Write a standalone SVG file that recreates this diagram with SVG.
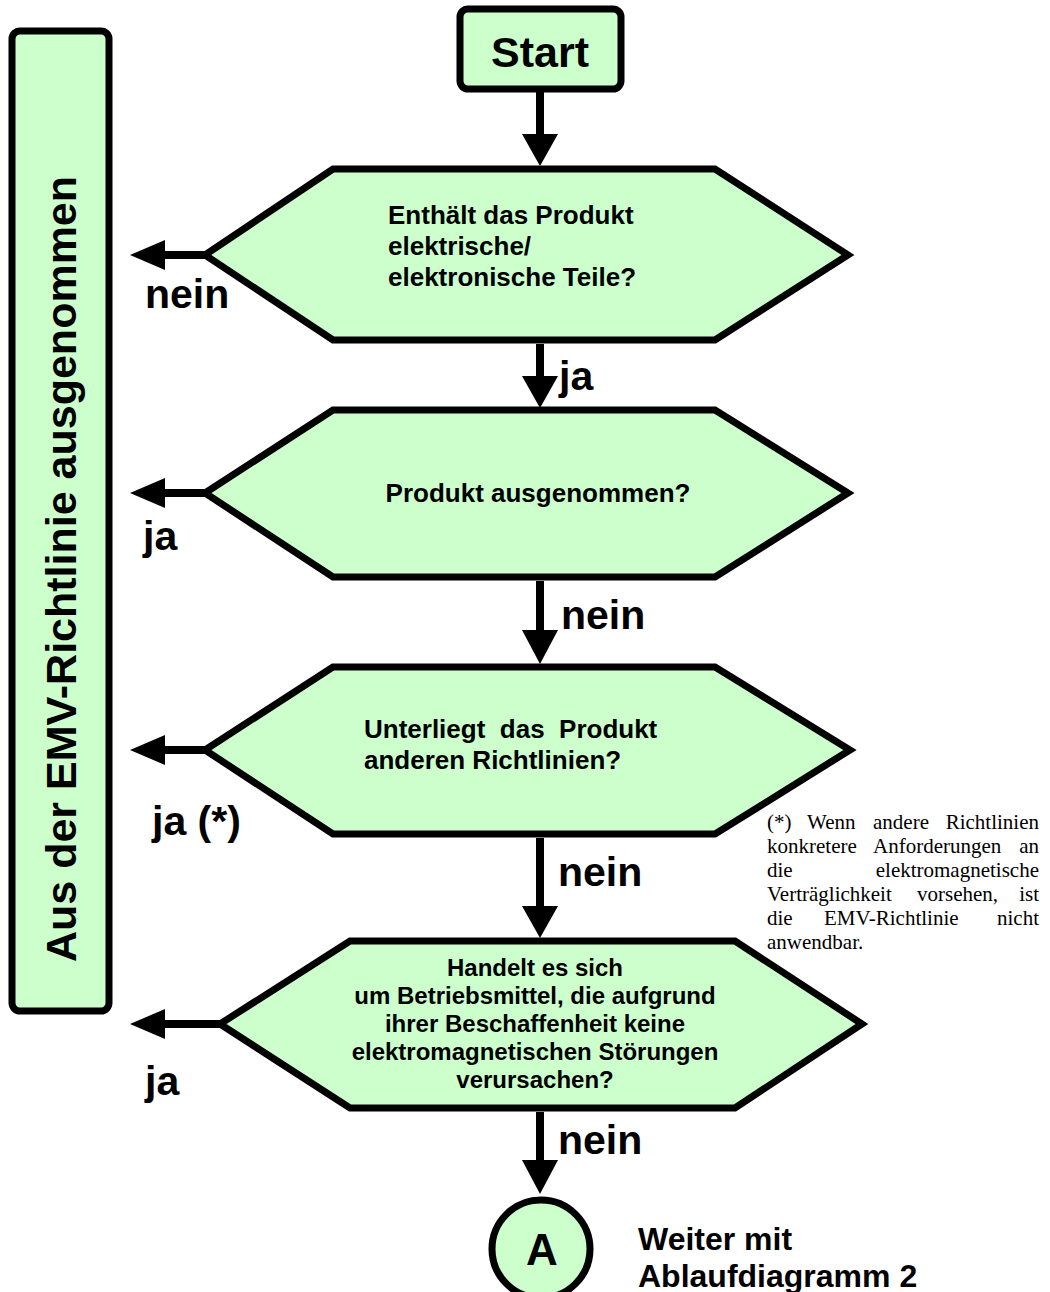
<svg xmlns="http://www.w3.org/2000/svg" width="1050" height="1292" viewBox="0 0 1050 1292">
<style>
.shape{fill:#ccffcc;stroke:#000;stroke-width:7;stroke-linejoin:miter}
.t{font-family:"Liberation Sans",Arial,sans-serif;font-weight:bold;fill:#000}
.q{font-size:26px}
.lbl{font-size:41px}
.fn{font-family:"Liberation Serif","Times New Roman",serif;font-size:21px;fill:#000}
.ln{stroke:#000;stroke-width:8;fill:none}
</style>
<rect width="1050" height="1292" fill="#fff"/>
<g id="side">
<rect class="shape" x="12" y="31" width="97" height="980" rx="8"/>
<text class="t" font-size="43" transform="translate(76,569) rotate(-90)" text-anchor="middle">Aus der EMV-Richtlinie ausgenommen</text>
</g>
<g id="start">
<rect class="shape" x="460" y="9" width="161" height="80" rx="8"/>
<text class="t" x="540" y="67" font-size="43" text-anchor="middle">Start</text>
</g>
<g id="q1">
<polygon class="shape" points="205,255 333,169 715,169 848,255 715,340 333,340"/>
<text class="t q" x="388" y="224">Enthält das Produkt</text>
<text class="t q" x="388" y="255">elektrische/</text>
<text class="t q" x="388" y="286">elektronische Teile?</text>
</g>
<g id="q2">
<polygon class="shape" points="205,493 333,410 715,410 848,493 715,577 333,577"/>
<text class="t q" x="538" y="502" text-anchor="middle">Produkt ausgenommen?</text>
</g>
<g id="q3">
<polygon class="shape" points="205,750 333,667 715,667 850,750 715,834 333,834"/>
<text class="t q" x="364" y="738" xml:space="preserve">Unterliegt  das  Produkt</text>
<text class="t q" x="364" y="769">anderen Richtlinien?</text>
</g>
<g id="q4">
<polygon class="shape" points="220,1024 350,941 735,941 862,1024 735,1108 350,1108"/>
<g text-anchor="middle">
<text class="t" font-size="24" x="535" y="976">Handelt es sich</text>
<text class="t" font-size="24" x="535" y="1004">um Betriebsmittel, die aufgrund</text>
<text class="t" font-size="24" x="535" y="1032">ihrer Beschaffenheit keine</text>
<text class="t" font-size="24" x="535" y="1060">elektromagnetischen Störungen</text>
<text class="t" font-size="24" x="535" y="1088">verursachen?</text>
</g>
</g>
<g id="end">
<circle class="shape" cx="541" cy="1249" r="49"/>
<text class="t" x="542" y="1265" font-size="44" text-anchor="middle">A</text>
<text class="t" x="638" y="1250" font-size="32">Weiter mit</text>
<text class="t" x="638" y="1287" font-size="32">Ablaufdiagramm 2</text>
</g>
<g id="note" class="fn">
<text x="767" y="829">(*)</text><text x="807" y="829">Wenn</text><text x="873" y="829">andere</text><text x="1039" y="829" text-anchor="end">Richtlinien</text>
<text x="767" y="853">konkretere</text><text x="873" y="853">Anforderungen</text><text x="1039" y="853" text-anchor="end">an</text>
<text x="767" y="877">die</text><text x="1039" y="877" text-anchor="end">elektromagnetische</text>
<text x="767" y="901">Verträglichkeit</text><text x="917" y="901">vorsehen,</text><text x="1039" y="901" text-anchor="end">ist</text>
<text x="767" y="925">die</text><text x="824" y="925">EMV-Richtlinie</text><text x="1039" y="925" text-anchor="end">nicht</text>
<text x="767" y="949">anwendbar.</text>
</g>
<g id="connectors">
<line class="ln" x1="540" y1="90" x2="540" y2="136"/>
<polygon points="522,134 558,134 540,166"/>
<line class="ln" x1="540" y1="344" x2="540" y2="378"/>
<polygon points="522,376 558,376 540,408"/>
<line class="ln" x1="540" y1="581" x2="540" y2="632"/>
<polygon points="522,630 558,630 540,664"/>
<line class="ln" x1="540" y1="838" x2="540" y2="908"/>
<polygon points="522,906 558,906 540,938"/>
<line class="ln" x1="540" y1="1112" x2="540" y2="1162"/>
<polygon points="522,1160 558,1160 540,1194"/>
<line class="ln" x1="205" y1="255" x2="162" y2="255"/>
<polygon points="165,240 165,270 130,255"/>
<line class="ln" x1="205" y1="493" x2="162" y2="493"/>
<polygon points="165,478 165,508 130,493"/>
<line class="ln" x1="205" y1="750" x2="162" y2="750"/>
<polygon points="165,735 165,765 130,750"/>
<line class="ln" x1="220" y1="1024" x2="162" y2="1024"/>
<polygon points="165,1009 165,1039 130,1024"/>
<text class="t lbl" x="145" y="308">nein</text>
<text class="t lbl" x="559" y="390">ja</text>
<text class="t lbl" x="143" y="550">ja</text>
<text class="t lbl" x="561" y="629">nein</text>
<text class="t lbl" x="152" y="835">ja (*)</text>
<text class="t lbl" x="558" y="886">nein</text>
<text class="t lbl" x="145" y="1095">ja</text>
<text class="t lbl" x="558" y="1154">nein</text>
</g>
</svg>
